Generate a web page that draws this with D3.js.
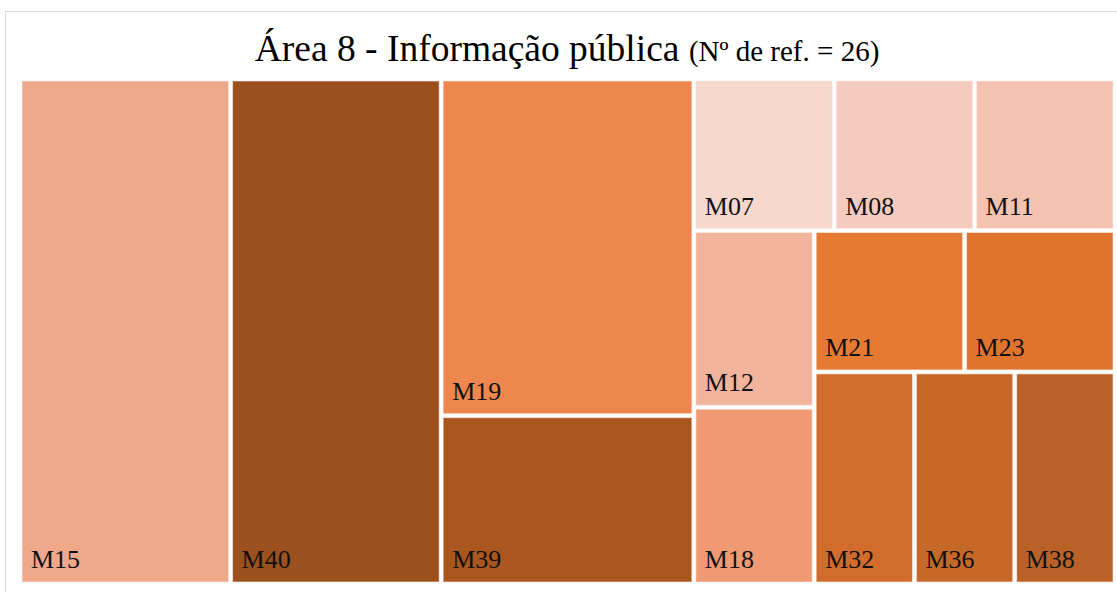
<!DOCTYPE html>
<html>
<head>
<meta charset="utf-8">
<script src="https://cdn.jsdelivr.net/npm/d3@7"></script>
<style>
  body { margin: 0; background: #fff; }
</style>
</head>
<body>
<svg id="chart"></svg>
<script>
var canvas_width = 1117;
var canvas_height = 592;
var left_offset = 22;
var top_offset = 81;
var plot_width = 1091;
var plot_height = 501;
var serif = "'Times New Roman', 'Liberation Serif', 'DejaVu Serif', serif";

// data
let names = ["M15", "M40", "M19", "M39", "M07", "M08", "M11", "M12", "M18", "M21", "M23", "M32", "M36", "M38"];
let counts = [5, 5, 4, 2, 1, 1, 1, 1, 1, 1, 1, 1, 1, 1];
let colours = ["#f0a88b", "#9c501e", "#ee874e", "#a9561f", "#f7d8cd", "#f6cbbf", "#f4c2b1",
               "#f2b49c", "#f09a73", "#e67a33", "#e0742d", "#d26c2c", "#c66828", "#b96126"];
let title_main = "Área 8 - Informação pública";
let title_sub = "(Nº de ref. = 26)";

// strips the way excel packed them: how many cells, and column or row
let strips = [
    {n: 1, dir: "col"}, {n: 1, dir: "col"}, {n: 2, dir: "col"},
    {n: 3, dir: "row"}, {n: 2, dir: "col"}, {n: 2, dir: "row"}, {n: 3, dir: "row"}
];

function strip_tile(parent, x0, y0, x1, y1){
    var nodes = parent.children;
    var value = parent.value;
    var i = 0;
    strips.forEach(s => {
        let kids = nodes.slice(i, i + s.n);
        let row = {value: d3.sum(kids, d => d.value), children: kids};
        if(s.dir == "row"){
            let y = y0 + (y1 - y0) * row.value / value;
            d3.treemapDice(row, x0, y0, x1, y);
            y0 = y;
        } else {
            let x = x0 + (x1 - x0) * row.value / value;
            d3.treemapSlice(row, x0, y0, x, y1);
            x0 = x;
        }
        value -= row.value;
        i += s.n;
    });
}

let svg = d3.select("#chart");
svg.attr("width", canvas_width).attr("height", canvas_height);

// chart frame, runs off the right and bottom of the shot
svg.append("rect")
    .attr("x", 5.5)
    .attr("y", 11.5)
    .attr("width", 1200)
    .attr("height", 700)
    .attr("fill", "white")
    .attr("stroke", "#d9d9d9")
    .attr("stroke-width", 1);

let root = d3.hierarchy({children: names.map((n, i) => ({name: n, value: counts[i], colour: colours[i]}))})
    .sum(d => d.value || 0);

d3.treemap()
    .tile(strip_tile)
    .size([plot_width, plot_height])
    .paddingInner(4)
    .round(false)(root);

let plot = svg.append("g")
    .attr("transform", "translate(" + left_offset + "," + top_offset + ")");

let cells = plot.selectAll(".cell")
    .data(root.leaves())
    .join("g")
    .attr("class", "cell");

cells.append("rect")
    .attr("x", d => d.x0)
    .attr("y", d => d.y0)
    .attr("width", d => d.x1 - d.x0)
    .attr("height", d => d.y1 - d.y0)
    .attr("fill", d => d.data.colour)
    .attr("stroke", "#fbeee8")
    .attr("stroke-opacity", 0.6)
    .attr("stroke-width", 1);

cells.append("text")
    .attr("x", d => d.x0 + 9)
    .attr("y", d => d.y1 - 14)
    .attr("font-family", serif)
    .attr("font-size", 26)
    .attr("fill", "#111")
    .text(d => d.data.name);

let title = svg.append("text")
    .attr("x", 567)
    .attr("y", 61)
    .attr("text-anchor", "middle")
    .attr("font-family", serif)
    .attr("fill", "#000");
title.append("tspan").attr("font-size", 37.5).text(title_main + " ");
title.append("tspan").attr("font-size", 29).text(title_sub);
</script>
</body>
</html>
